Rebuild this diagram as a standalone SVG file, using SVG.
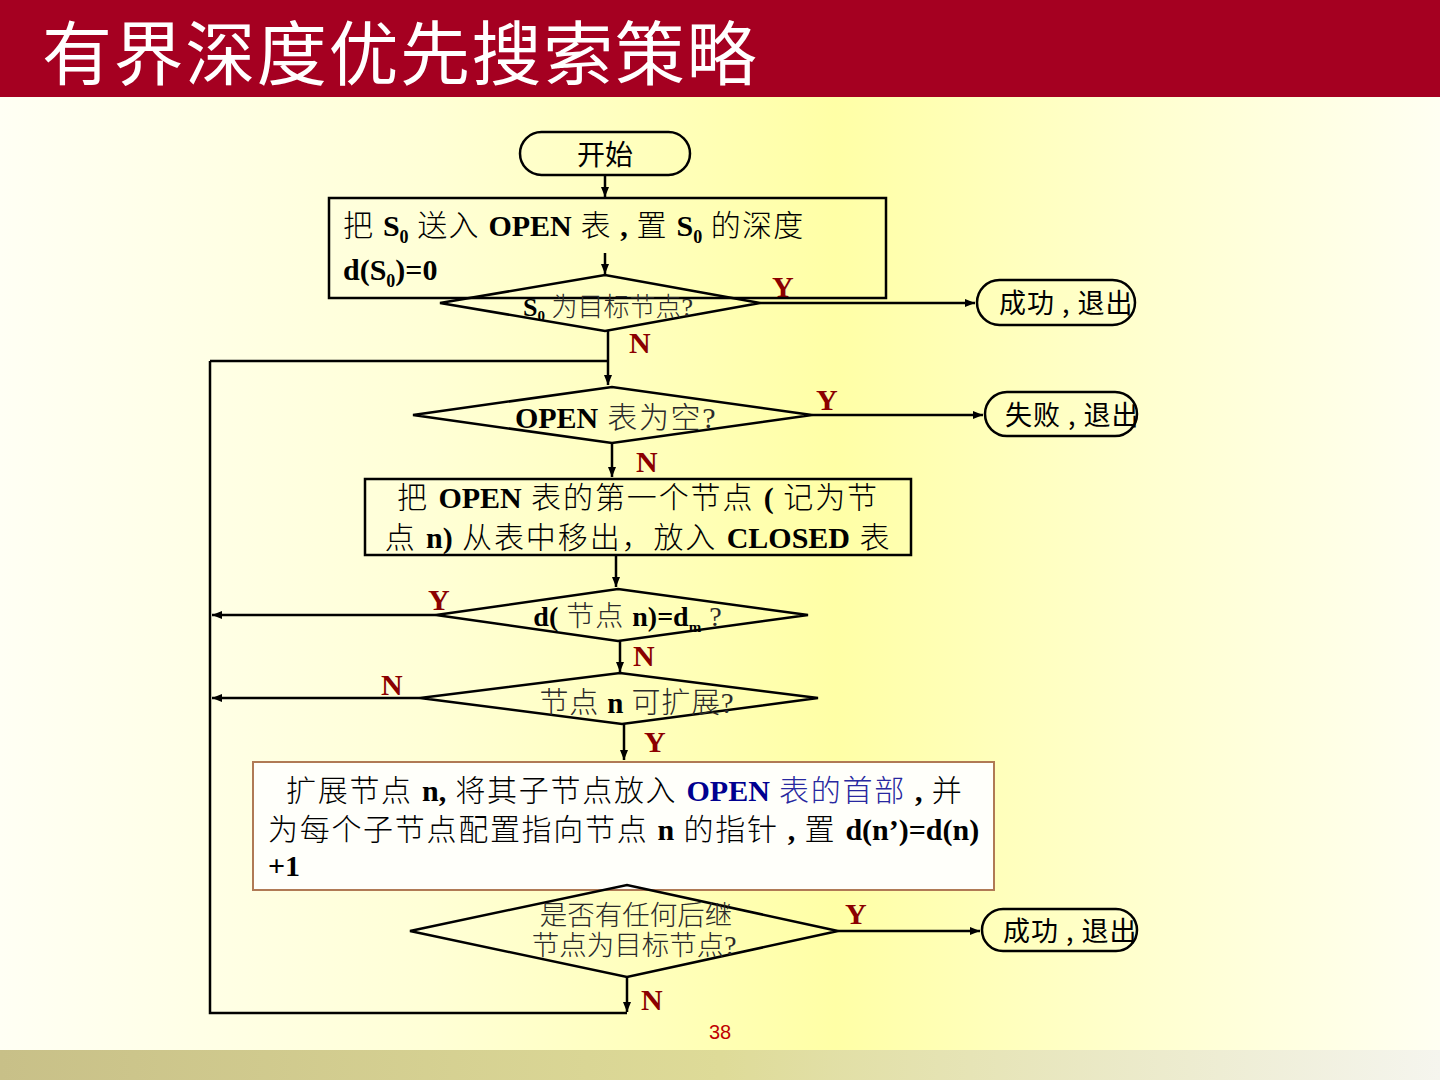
<svg xmlns="http://www.w3.org/2000/svg" width="1440" height="1080" viewBox="0 0 1440 1080">
<defs>
<linearGradient id="bg" x1="0" y1="0" x2="1" y2="0">
<stop offset="0" stop-color="#fffff4"/>
<stop offset="0.3" stop-color="#ffffd6"/>
<stop offset="0.58" stop-color="#ffffa6"/>
<stop offset="0.8" stop-color="#ffffd0"/>
<stop offset="1" stop-color="#fffff2"/>
</linearGradient>
<linearGradient id="band" x1="0" y1="0" x2="1" y2="0">
<stop offset="0" stop-color="#c8c088"/>
<stop offset="0.5" stop-color="#dedb98"/>
<stop offset="1" stop-color="#f5f5ee"/>
</linearGradient>
<marker id="ah" viewBox="0 0 10 8" refX="10" refY="4" markerWidth="10" markerHeight="8" markerUnits="userSpaceOnUse" orient="auto">
<path d="M0,0 L10,4 L0,8 Z" fill="#000"/>
</marker>
</defs>
<style>
.ln{fill:none;stroke:#000;stroke-width:2.5}
.ar{fill:none;stroke:#000;stroke-width:2.5;marker-end:url(#ah)}
.sh{fill:none;stroke:#000;stroke-width:2.5}
.tx{font-family:"Liberation Serif","Noto Sans CJK SC",serif;fill:#000;font-weight:300}
.dt{font-family:"Liberation Serif","Noto Sans CJK SC",serif;fill:#2a2a2a;font-weight:300}
.b{font-weight:bold;fill:#000;letter-spacing:0}
.yn{font-family:"Liberation Serif",serif;font-weight:bold;font-size:30px;fill:#8b0000}
.term{font-family:"Noto Sans CJK SC",sans-serif;font-size:27px;fill:#000;letter-spacing:1px}
</style>
<rect x="0" y="0" width="1440" height="1080" fill="url(#bg)"/>
<rect x="0" y="1050" width="1440" height="30" fill="url(#band)"/>
<rect x="0" y="0" width="1440" height="97" fill="#a50021"/>
<text x="42" y="80" font-family="Noto Sans CJK SC,sans-serif" font-size="70" fill="#fff" letter-spacing="1.6">有界深度优先搜索策略</text>

<g id="connectors">
<path class="ar" d="M605,175 V197"/>
<path class="ar" d="M605,253 V274"/>
<path class="ar" d="M760,303 H975"/>
<path class="ar" d="M608,331 V385"/>
<path class="ln" d="M210,361 H608"/>
<path class="ar" d="M812,415 H983"/>
<path class="ar" d="M612,443 V477"/>
<path class="ar" d="M616,556 V587"/>
<path class="ar" d="M436,615 H212"/>
<path class="ar" d="M620,641 V672"/>
<path class="ar" d="M420,698 H212"/>
<path class="ar" d="M624,724 V760"/>
<path class="ar" d="M627,855 V884"/>
<path class="ar" d="M838,931 H980"/>
<path class="ar" d="M627,977 V1012"/>
<path class="ln" d="M627,1013 H210 V361"/>
<text class="yn" x="772" y="297">Y</text>
<text class="yn" x="629" y="353">N</text>
<text class="yn" x="816" y="410">Y</text>
<text class="yn" x="636" y="472">N</text>
<text class="yn" x="428" y="610">Y</text>
<text class="yn" x="633" y="666">N</text>
<text class="yn" x="381" y="695">N</text>
<text class="yn" x="644" y="752">Y</text>
<text class="yn" x="845" y="924">Y</text>
<text class="yn" x="641" y="1010">N</text>
</g>

<g id="start">
<rect class="sh" x="520" y="132" width="170" height="43" rx="21.5"/>
<text x="605" y="165" text-anchor="middle" font-family="Noto Sans CJK SC,sans-serif" font-size="28">开始</text>
</g>

<g id="init">
<rect class="sh" x="329" y="198" width="557" height="100"/>
<text class="tx" x="343" y="236" font-size="30" letter-spacing="1.2">把 <tspan class="b">S</tspan><tspan class="b" font-size="18" dy="7">0</tspan><tspan dy="-7"> 送入 </tspan><tspan class="b">OPEN</tspan> 表 <tspan class="b">,</tspan> 置 <tspan class="b">S</tspan><tspan class="b" font-size="18" dy="7">0</tspan><tspan dy="-7"> 的深度</tspan></text>
<text class="tx b" x="343" y="280" font-size="30">d(S<tspan font-size="18" dy="7">0</tspan><tspan dy="-7">)=0</tspan></text>
</g>

<g id="goal0">
<polygon class="sh" points="440,303 605,275 760,303 605,331"/>
<text class="dt" x="608" y="316" font-size="26" text-anchor="middle"><tspan class="b">S</tspan><tspan class="b" font-size="15" dy="5">0</tspan><tspan dy="-5"> 为目标节点?</tspan></text>
</g>

<g id="succ1">
<rect class="sh" x="977" y="280" width="158" height="45" rx="22.5"/>
<text class="term" x="999" y="313">成功 , 退出</text>
</g>

<g id="empty">
<polygon class="sh" points="413,415 612,387 812,415 612,443"/>
<text class="dt" x="616" y="428" font-size="30" text-anchor="middle" letter-spacing="1.6"><tspan class="b">OPEN</tspan> 表为空?</text>
</g>

<g id="fail">
<rect class="sh" x="985" y="392" width="152" height="44" rx="22"/>
<text class="term" x="1005" y="425">失败 , 退出</text>
</g>

<g id="remove">
<rect class="sh" x="365" y="479" width="546" height="76"/>
<text class="tx" x="638" y="508" font-size="30" text-anchor="middle" letter-spacing="1.9">把 <tspan class="b">OPEN</tspan> 表的第一个节点 <tspan class="b">(</tspan> 记为节</text>
<text class="tx" x="638" y="548" font-size="30" text-anchor="middle" letter-spacing="1.9">点 <tspan class="b">n)</tspan>   从表中移出，放入 <tspan class="b">CLOSED</tspan> 表</text>
</g>

<g id="depth">
<polygon class="sh" points="436,615 618,589 808,615 618,641"/>
<text class="dt" x="628" y="626" font-size="28" text-anchor="middle" letter-spacing="1"><tspan class="b">d(</tspan> 节点 <tspan class="b">n)=d</tspan><tspan class="b" font-size="15" dy="6">m</tspan><tspan dy="-6"> ?</tspan></text>
</g>

<g id="expandable">
<polygon class="sh" points="420,698 620,673 818,698 622,724"/>
<text class="dt" x="637" y="713" font-size="29" text-anchor="middle" letter-spacing="0.8">节点 <tspan class="b">n</tspan> 可扩展?</text>
</g>

<g id="expand">
<rect x="253" y="762" width="741" height="128" fill="#fffffa" stroke="#b07a55" stroke-width="2"/>
<text class="tx" x="286" y="801" font-size="30" letter-spacing="1.7">扩展节点 <tspan class="b">n,</tspan> 将其子节点放入 <tspan class="b" style="fill:#000090">OPEN</tspan><tspan fill="#2828a0"> 表的首部</tspan> <tspan class="b">,</tspan> 并</text>
<text class="tx" x="268" y="840" font-size="30" letter-spacing="1.7">为每个子节点配置指向节点 <tspan class="b">n</tspan> 的指针 <tspan class="b">,</tspan> 置 <tspan class="b">d(n’)=d(n)</tspan></text>
<text class="tx b" x="268" y="876" font-size="30">+1</text>
</g>

<g id="goal">
<polygon class="sh" points="410,931 627,885 838,931 627,977"/>
<text class="dt" x="636" y="925" font-size="27.5" text-anchor="middle">是否有任何后继</text>
<text class="dt" x="634" y="955" font-size="27.5" text-anchor="middle">节点为目标节点?</text>
</g>

<g id="succ2">
<rect class="sh" x="982" y="909" width="155" height="42" rx="21"/>
<text class="term" x="1003" y="941">成功 , 退出</text>
</g>

<text x="720" y="1039" font-family="Liberation Sans,sans-serif" font-size="20" fill="#c00000" text-anchor="middle">38</text>
</svg>
